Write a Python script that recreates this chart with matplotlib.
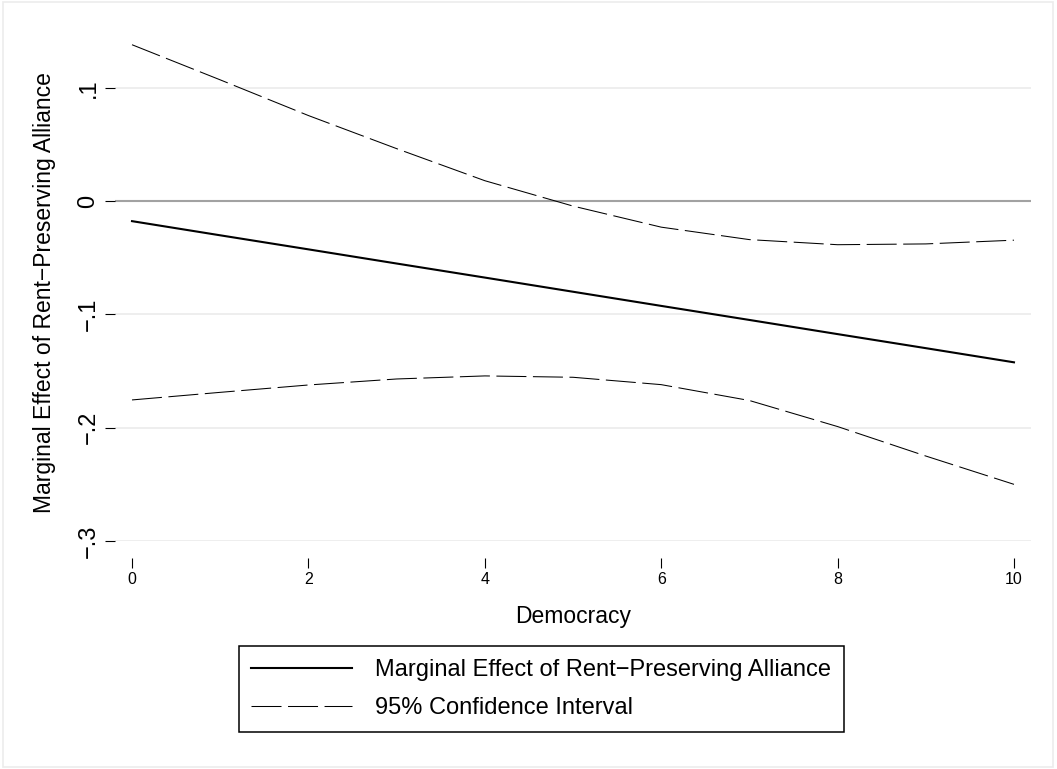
import numpy as np
import matplotlib
matplotlib.use('Agg')
import matplotlib.pyplot as plt
from matplotlib.lines import Line2D
from matplotlib.patches import Rectangle

plt.rcParams['font.family'] = ['Liberation Sans', 'DejaVu Sans']
plt.rcParams['lines.scale_dashes'] = False

# democracy score and marginal effect with 95% CI
democracy = [0, 1, 2, 3, 4, 5, 6, 7, 8, 9, 10]
effect = [-0.0177, -0.0302, -0.0426, -0.0551, -0.0675, -0.0800,
          -0.0925, -0.1049, -0.1174, -0.1298, -0.1423]
ci_upper = [0.138, 0.107, 0.0755, 0.0463, 0.018, -0.0044,
            -0.023, -0.034, -0.0385, -0.0378, -0.0345]
ci_lower = [-0.1755, -0.1688, -0.1623, -0.157, -0.1543, -0.1555,
            -0.162, -0.176, -0.199, -0.225, -0.250]

xticks = [0, 2, 4, 6, 8, 10]
yticks = [-0.3, -0.2, -0.1, 0.1]
ytick_labels = ['\u2212.3', '\u2212.2', '\u2212.1', '.1']

effect_label = 'Marginal Effect of Rent\u2212Preserving Alliance'
ci_label = '95% Confidence Interval'

fig = plt.figure(figsize=(10.57, 7.69), dpi=100)
ax = fig.add_axes([115/1057, 1 - 541/769, 916/1057, 511/769])

# grid lines + zero reference line
for yv in yticks:
    ax.axhline(yv, color='#eaeaea', lw=1.1, zorder=1)
ax.axhline(0, color='#a2a2a2', lw=1.5, zorder=1)

ax.plot(democracy, effect, color='black', lw=1.5, zorder=3)
ax.plot(democracy, ci_upper, color='black', lw=0.75, dashes=(21.6, 4.7), zorder=3)
ax.plot(democracy, ci_lower, color='black', lw=0.75, dashes=(21.6, 4.7), zorder=3)

ax.set_xlim(-0.193, 10.193)
ax.set_ylim(-0.3, 0.151)

ax.set_xticks(xticks)
ax.set_xticklabels([str(v) for v in xticks])
ax.set_yticks(yticks + [0])
ax.set_yticklabels(ytick_labels + ['0'], rotation=90, va='center')

for side in ['top', 'right', 'left', 'bottom']:
    ax.spines[side].set_color('none')
ax.spines['bottom'].set_position(('outward', 12.2))

ax.tick_params(axis='x', direction='out', length=7.2, width=0.8, color='black',
               labelsize=11.5, pad=3)
ax.tick_params(axis='y', direction='out', length=7.2, width=0.8, color='black',
               labelsize=17, pad=4)

ax.set_xlabel('Democracy', fontsize=16.5)
ax.xaxis.set_label_coords(0.5, -0.125)
ax.set_ylabel(effect_label, fontsize=16.5)
ax.yaxis.set_label_coords(-0.064, 0.487)

handles = [Line2D([], [], color='black', lw=1.5),
           Line2D([], [], color='black', lw=0.75, dashes=(21.6, 4.7))]
leg = fig.legend(handles, [effect_label, ci_label], loc='center',
                 bbox_to_anchor=(0.5121, 0.104), fontsize=17,
                 fancybox=False, edgecolor='black', framealpha=1,
                 handlelength=4.24, handletextpad=1.0, borderpad=0.53,
                 labelspacing=0.69)
leg.get_frame().set_linewidth(1.1)

# light outer border of the graph region
fig.patches.append(Rectangle((3/1057, 2/769), 1050/1057, 765/769,
                             transform=fig.transFigure, fill=False,
                             edgecolor='#ececec', lw=1.2))

fig.savefig('out.png', dpi=100)
